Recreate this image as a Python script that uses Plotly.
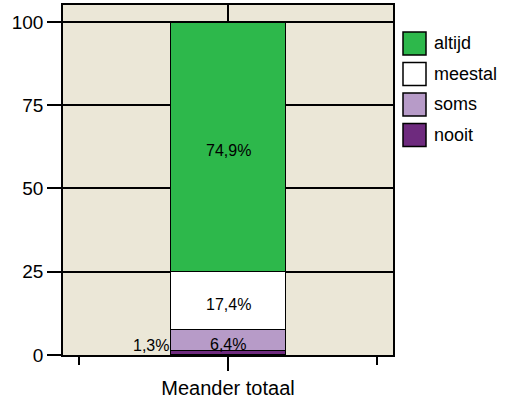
import plotly.graph_objects as go

categories = ['nooit', 'soms', 'meestal', 'altijd']
values = [1.3, 6.4, 17.4, 74.9]
labels = ['1,3%', '6,4%', '17,4%', '74,9%']
colors = ['#6e2a7e', '#b79bc8', '#ffffff', '#2db84b']
group = 'Meander totaal'

# plot area in pixels: x 63..393, y 5..355
L, R, T, B = 63, 393, 5, 355
W, H = R - L, B - T

fig = go.Figure()
base = 0
for cat, val, lab, col in zip(categories, values, labels, colors):
    fig.add_trace(go.Bar(x=[0], y=[val], name=cat, width=0.77, marker_color=col,
                         marker_line_color='black', marker_line_width=1.5, showlegend=False))
    if cat == 'nooit':
        fig.add_annotation(x=-0.385, y=base + val / 2, text=lab, xanchor='right', yshift=7,
                           showarrow=False, font=dict(size=16, color='black'))
    else:
        fig.add_annotation(x=0, y=base + val / 2, text=lab, showarrow=False, yshift=-4,
                           font=dict(size=16, color='black'))
    base += val

# legend drawn as boxes + text, top item = altijd
for i, (cat, col) in enumerate(zip(categories[::-1], colors[::-1])):
    top = 32 + i * 30.5
    fig.add_shape(type='rect', xref='paper', yref='paper', x0=(403 - L) / W, x1=(426 - L) / W,
                  y0=(B - top - 23) / H, y1=(B - top) / H, fillcolor=col,
                  line=dict(color='black', width=1.5))
    fig.add_annotation(xref='paper', yref='paper', x=(432 - L) / W, y=(B - top - 11.5) / H, text=cat,
                       xanchor='left', yanchor='middle', showarrow=False, font=dict(size=18, color='black'))

fig.update_layout(
    width=511, height=401,
    barmode='stack',
    paper_bgcolor='white', plot_bgcolor='#ebe7d7',
    margin=dict(l=L, r=511 - R, t=T, b=401 - B, autoexpand=False),
    font=dict(family='Liberation Sans, Arial, sans-serif', color='black'),
    showlegend=False,
)
fig.update_xaxes(range=[-1.107, 1.107], tickvals=[0], ticktext=[group], ticks='outside', ticklen=14,
                 tickwidth=1.5, tickcolor='black', tickfont=dict(size=20),
                 showgrid=True, gridcolor='black', gridwidth=1.5, zeroline=False,
                 showline=True, linecolor='black', linewidth=1.5, mirror=True,
                 minor=dict(tickvals=[-1, 1], ticks='outside', ticklen=8, tickwidth=1.5,
                            tickcolor='black', showgrid=False))
fig.update_yaxes(range=[0, 105.1], tickvals=[0, 25, 50, 75, 100], ticks='outside', ticklen=14,
                 tickwidth=1.5, tickcolor='black', tickfont=dict(size=19),
                 showgrid=True, gridcolor='black', gridwidth=1.5, zeroline=False,
                 showline=True, linecolor='black', linewidth=1.5, mirror=True)

fig.write_html("out.html", config={'displayModeBar': False},
               post_script="document.body.style.margin='0';")
